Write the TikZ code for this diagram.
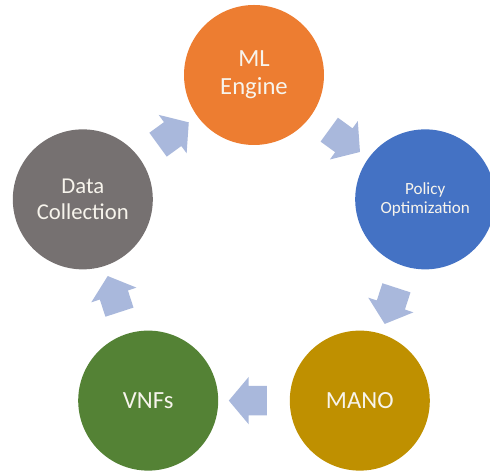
\documentclass[tikz,border=0pt]{standalone}
\usepackage{fontspec}
\setmainfont{Carlito}
\usetikzlibrary{calc,shapes.arrows}

\definecolor{mlorange}{HTML}{ED7D31}
\definecolor{poblue}{HTML}{4472C4}
\definecolor{dcgray}{HTML}{767171}
\definecolor{manogold}{HTML}{BF9000}
\definecolor{vnfgreen}{HTML}{548235}
\definecolor{flowblue}{HTML}{A9B8DC}
\definecolor{labelwhite}{HTML}{F7F4EC}

\begin{document}
\begin{tikzpicture}[x=0.75pt, y=0.75pt,
    stage/.style={circle, minimum size=105pt, inner sep=0pt, text=labelwhite,
        align=center, font=\fontsize{18.5}{21}\selectfont},
    flow/.style={single arrow, fill=flowblue, draw=none,
        inner xsep=0pt, inner ysep=10.875pt, minimum height=28.5pt,
        single arrow head extend=6.75pt, single arrow tip angle=100}]
    % frame
    \useasboundingbox (0,0) rectangle (490,473);

    % parameters
    \def\R{180}    % pentagon radius
    \coordinate (M) at (254,218);

    % stages
    \node[stage, fill=mlorange] (ml) at ($(M)+(90:\R)$) {ML\\Engine};
    \node[stage, fill=poblue, font=\fontsize{12.8}{13.8}\selectfont] (po) at ($(M)+(18:\R)$) {Policy\\Optimization};
    \node[stage, fill=manogold] (mano) at ($(M)+(-54:\R)$) {MANO};
    \node[stage, fill=vnfgreen] (vnf) at ($(M)+(-126:\R)$) {VNFs};
    \node[stage, fill=dcgray, font=\fontsize{17}{19}\selectfont] (dc) at ($(M)+(162:\R)$) {Data\\Collection};

    % block arrows
    \node[flow, rotate=-36] (a1) at ($(ml)!0.5!(po)$) {};
    \node[flow, rotate=-108] (a2) at ($(po)!0.5!(mano)$) {};
    \node[flow, rotate=180] (a3) at ($(mano)!0.5!(vnf)$) {};
    \node[flow, rotate=108] (a4) at ($(vnf)!0.5!(dc)$) {};
    \node[flow, rotate=36] (a5) at ($(dc)!0.5!(ml)$) {};
\end{tikzpicture}
\end{document}
